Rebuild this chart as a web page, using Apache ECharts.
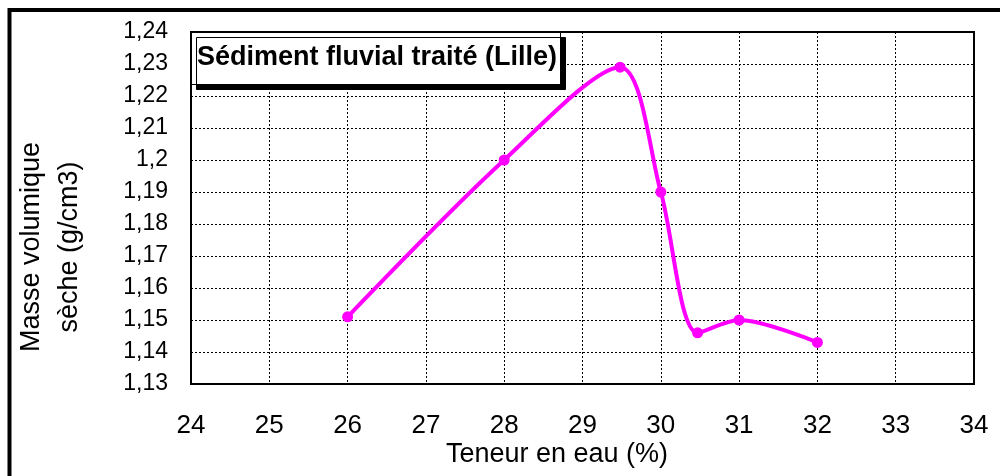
<!DOCTYPE html>
<html lang="fr">
<head>
    <meta charset="UTF-8">
    <title>Sédiment fluvial traité (Lille)</title>
</head>
<body style="margin: 0; background: #fff">
    <div id="main" style="width:1000px;height:476px"></div>
    <script src="https://cdn.jsdelivr.net/npm/echarts@6.0.0/dist/echarts.min.js"></script>
    <script type="text/javascript">

        // teneur en eau (%) et masse volumique sèche (g/cm3)
        var waterContent = [26, 28, 29.48, 30, 30.47, 31, 32];
        var dryDensity = [1.151, 1.2, 1.229, 1.19, 1.146, 1.150, 1.143];

        var chartTitle = 'Sédiment fluvial traité (Lille)';
        var xName = 'Teneur en eau (%)';
        var yName = 'Masse volumique\nsèche (g/cm3)';

        var FONT = '"Liberation Sans", Arial, sans-serif';

        var myChart = echarts.init(document.getElementById('main'));

        var option = {
            animation: false,
            title: {
                text: chartTitle,
                left: 191,
                top: 32,
                padding: [11, 4, 12, 6],
                backgroundColor: '#fff',
                borderColor: '#000',
                borderWidth: 1,
                shadowColor: '#000',
                shadowBlur: 0,
                shadowOffsetX: 5,
                shadowOffsetY: 5,
                textStyle: {
                    fontFamily: FONT,
                    fontSize: 27,
                    fontWeight: 'bold',
                    color: '#000',
                    lineHeight: 30
                },
                z: 10
            },
            grid: {
                left: 191,
                right: 26,
                top: 32,
                bottom: 92,
                show: true,
                borderColor: '#000',
                borderWidth: 2,
                backgroundColor: '#fff'
            },
            xAxis: {
                type: 'value',
                min: 24,
                max: 34,
                interval: 1,
                axisLine: { lineStyle: { color: '#000', width: 2 } },
                axisTick: { show: false },
                axisLabel: {
                    margin: 29,
                    fontFamily: FONT,
                    fontSize: 26,
                    color: '#000'
                },
                splitLine: {
                    lineStyle: { color: '#000', type: [2, 2], width: 1 }
                }
            },
            yAxis: {
                type: 'value',
                min: 1.13,
                max: 1.24,
                interval: 0.01,
                axisLine: { show: true, lineStyle: { color: '#000', width: 2 } },
                axisTick: { show: false },
                axisLabel: {
                    margin: 23,
                    fontFamily: FONT,
                    fontSize: 23,
                    color: '#000',
                    formatter: function (v) {
                        return String(parseFloat(v.toFixed(2))).replace('.', ',');
                    }
                },
                splitLine: {
                    lineStyle: { color: '#000', type: [2, 2], width: 1 }
                }
            },
            series: [
                {
                    type: 'line',
                    data: waterContent.map(function (w, i) {
                        return [w, dryDensity[i]];
                    }),
                    smooth: 0.3,
                    symbol: 'circle',
                    symbolSize: 11,
                    lineStyle: { color: '#ff00ff', width: 4 },
                    itemStyle: { color: '#ff00ff' }
                }
            ],
            graphic: [
                {
                    type: 'rect',
                    shape: { x: 9.5, y: 10, width: 1200, height: 800 },
                    style: { fill: 'none', stroke: '#000', lineWidth: 4 },
                    silent: true
                },
                {
                    type: 'text',
                    x: 557,
                    y: 455,
                    style: {
                        text: xName,
                        fontFamily: FONT,
                        fontSize: 27,
                        fill: '#000',
                        textAlign: 'center',
                        textVerticalAlign: 'middle'
                    }
                },
                {
                    type: 'text',
                    x: 51,
                    y: 247,
                    rotation: Math.PI / 2,
                    style: {
                        text: yName,
                        fontFamily: FONT,
                        fontSize: 27,
                        lineHeight: 38,
                        fill: '#000',
                        textAlign: 'center',
                        textVerticalAlign: 'middle'
                    }
                }
            ]
        };

        myChart.setOption(option);

    </script>
</body>
</html>
